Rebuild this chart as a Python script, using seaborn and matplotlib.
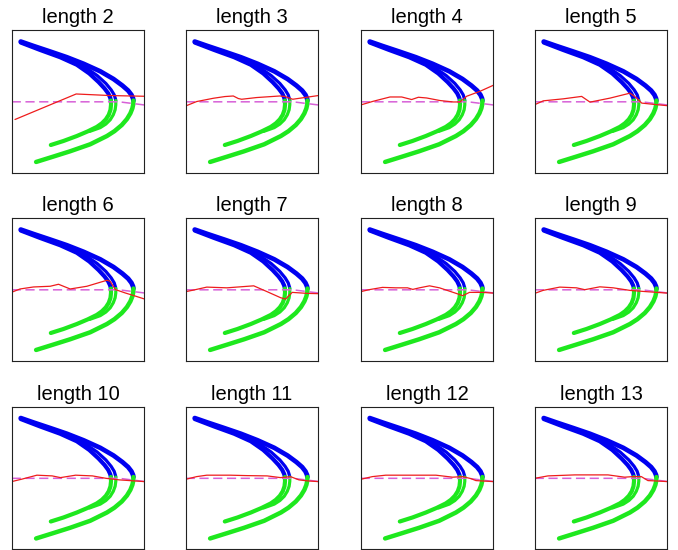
import numpy as np
import pandas as pd
import matplotlib
matplotlib.use("Agg")
import matplotlib.pyplot as plt
import seaborn as sns

sns.set_style("white")
plt.rcParams['font.family'] = ['Liberation Sans', 'DejaVu Sans']

# ---- data (panel coordinates in percent of box: x from left, y from bottom) ----
lengths = [2, 3, 4, 5, 6, 7, 8, 9, 10, 11, 12, 13]

# attractor strands above the true partition (blue)
blue_outer_x = [6.8, 16.4, 29.0, 41.6, 54.2, 66.8, 76.8, 83.5, 87.8, 90.3, 91.5, 91.8]
blue_outer_y = [91.9, 88.8, 84.9, 80.9, 76.3, 71.0, 65.6, 61.0, 57.5, 54.5, 52.0, 50.5]
blue_inner_x = [6.8, 21.4, 36.5, 49.1, 58.5, 65.5, 70.0, 72.8, 74.3, 74.8]
blue_inner_y = [91.2, 86.0, 80.9, 75.6, 69.5, 63.5, 59.0, 55.5, 52.5, 50.5]
blue_mid_x = [45.0, 56.0, 64.5, 71.0, 75.0, 77.3, 78.3, 78.5]
blue_mid_y = [78.5, 73.5, 68.0, 62.5, 58.0, 54.5, 51.5, 50.5]

# attractor strands below the true partition (green)
green_outer_x = [91.8, 91.7, 91.0, 89.5, 86.9, 83.0, 77.5, 71.8, 59.2, 44.1, 31.5, 18.4]
green_outer_y = [50.5, 48.0, 45.0, 41.5, 37.5, 33.3, 29.0, 25.6, 19.8, 14.9, 11.2, 7.4]
green_inner_x = [74.8, 74.9, 74.5, 73.2, 71.0, 68.0, 64.2, 57.2, 49.1, 39.0, 29.5]
green_inner_y = [50.5, 47.5, 44.0, 40.5, 37.3, 34.5, 32.0, 28.8, 25.6, 22.1, 19.3]
green_mid_x = [78.5, 78.5, 78.0, 76.6, 74.3, 71.0, 66.8, 58.7]
green_mid_y = [50.5, 47.5, 44.0, 40.5, 37.0, 34.0, 31.5, 28.8]

# true partition (magenta dashed)
true_x = [0, 81, 100]
true_y = [49.6, 49.6, 47.4]

# estimated partition for each length (red)
est_x = {
    2: [2.5, 48.6, 74.3, 100],
    3: [0, 8.3, 20.9, 29.6, 35.9, 39.7, 42.2, 53.5, 71.1, 74.9, 80.7, 91.2, 100],
    4: [0, 9.5, 22.1, 30.9, 38.4, 43.5, 49.7, 59.8, 69.8, 74.9, 79.9, 90.0, 100],
    5: [0, 6.5, 21.6, 35.4, 41.7, 56.8, 71.9, 77.0, 80.7, 92.0, 100],
    6: [0, 6.3, 16.4, 29.0, 35.3, 44.1, 56.7, 71.8, 74.3, 78.1, 85.6, 91.9, 100],
    7: [0, 5.8, 15.9, 31.1, 41.2, 51.3, 61.4, 71.5, 75.3, 80.3, 91.7, 100],
    8: [0, 6.3, 16.4, 26.5, 35.3, 39.3, 44.3, 51.9, 59.4, 72.0, 77.0, 82.0, 92.0, 100],
    9: [0, 6.3, 18.9, 31.5, 37.8, 49.1, 59.2, 71.8, 84.4, 100],
    10: [0, 7.6, 19.0, 30.5, 36.8, 48.2, 60.9, 71.1, 81.2, 100],
    11: [0, 8.3, 15.9, 33.6, 46.2, 61.4, 71.5, 79.0, 85.4, 91.7, 100],
    12: [0, 8.8, 18.9, 34.0, 56.7, 69.3, 76.8, 83.1, 86.9, 100],
    13: [0, 10.0, 30.2, 55.3, 67.8, 74.1, 80.4, 85.4, 90.5, 100],
}
est_y = {
    2: [37.2, 55.1, 54.0, 53.5],
    3: [46.7, 49.8, 52.1, 53.3, 53.7, 51.9, 51.4, 52.6, 53.7, 53.3, 51.4, 52.8, 54.0],
    4: [47.4, 50.0, 53.0, 53.0, 51.2, 52.8, 52.3, 50.5, 49.5, 49.5, 53.5, 57.0, 61.2],
    5: [47.6, 50.3, 51.7, 53.4, 49.4, 52.2, 55.7, 52.2, 48.7, 47.6, 46.9],
    6: [47.9, 50.2, 51.6, 52.1, 53.5, 50.2, 52.1, 56.3, 55.6, 49.8, 47.4, 45.6, 43.2],
    7: [48.3, 49.4, 51.5, 51.0, 51.7, 52.4, 48.3, 44.1, 43.1, 47.8, 47.1, 46.9],
    8: [48.3, 49.7, 51.3, 51.0, 51.0, 49.9, 51.0, 52.4, 51.0, 47.1, 45.5, 47.8, 47.8, 47.3],
    9: [47.1, 49.2, 51.5, 51.0, 49.7, 51.7, 51.0, 49.2, 48.3, 47.3],
    10: [47.3, 49.0, 51.8, 51.3, 50.1, 51.8, 51.3, 49.6, 48.5, 47.3],
    11: [48.9, 50.8, 51.8, 51.8, 51.5, 51.3, 50.1, 50.8, 48.5, 47.8, 47.3],
    12: [48.9, 50.8, 51.8, 51.8, 51.8, 50.4, 50.8, 49.4, 48.0, 47.3],
    13: [49.6, 51.3, 52.0, 52.0, 50.4, 50.8, 50.8, 48.0, 47.8, 47.3],
}

# ---- figure ----
W, H = 678, 550
fig = plt.figure(figsize=(W / 100, H / 100), dpi=100)

col_left = [11.7, 185.7, 360.7, 534.7]
row_top = [30, 218, 406.5]
pw, ph = 132.6, 142.5

blue = '#0000f0'
green = '#1ee81e'

def seg(ax, xs, ys, color, lw, **kw):
    df = pd.DataFrame({'x': xs, 'y': ys})
    sns.lineplot(data=df, x='x', y='y', sort=False, estimator=None, ax=ax,
                 color=color, linewidth=lw, legend=False, **kw)

for i, L in enumerate(lengths):
    r, c = divmod(i, 4)
    ax = fig.add_axes([col_left[c] / W, 1 - (row_top[r] + ph) / H, pw / W, ph / H])
    seg(ax, blue_outer_x, blue_outer_y, blue, 3.4, solid_capstyle='round', solid_joinstyle='round')
    seg(ax, blue_inner_x, blue_inner_y, blue, 3.0, solid_capstyle='round', solid_joinstyle='round')
    seg(ax, blue_mid_x, blue_mid_y, blue, 2.3, solid_capstyle='round', solid_joinstyle='round')
    seg(ax, green_outer_x, green_outer_y, green, 3.2, solid_capstyle='round', solid_joinstyle='round')
    seg(ax, green_inner_x, green_inner_y, green, 3.0, solid_capstyle='round', solid_joinstyle='round')
    seg(ax, green_mid_x, green_mid_y, green, 2.3, solid_capstyle='round', solid_joinstyle='round')
    seg(ax, true_x, true_y, '#d760d7', 1.1, dashes=(6, 3))
    seg(ax, est_x[L], est_y[L], '#ee1c1c', 0.9)
    ax.set_xlim(0, 100)
    ax.set_ylim(0, 100)
    ax.set_xticks([])
    ax.set_yticks([])
    ax.set_xlabel('')
    ax.set_ylabel('')
    for s in ax.spines.values():
        s.set_visible(True)
        s.set_color('#222222')
        s.set_linewidth(0.8)
    ax.set_title(f'length {L}', fontsize=14.5, pad=5, color='black')

fig.savefig('out.png', dpi=100)
